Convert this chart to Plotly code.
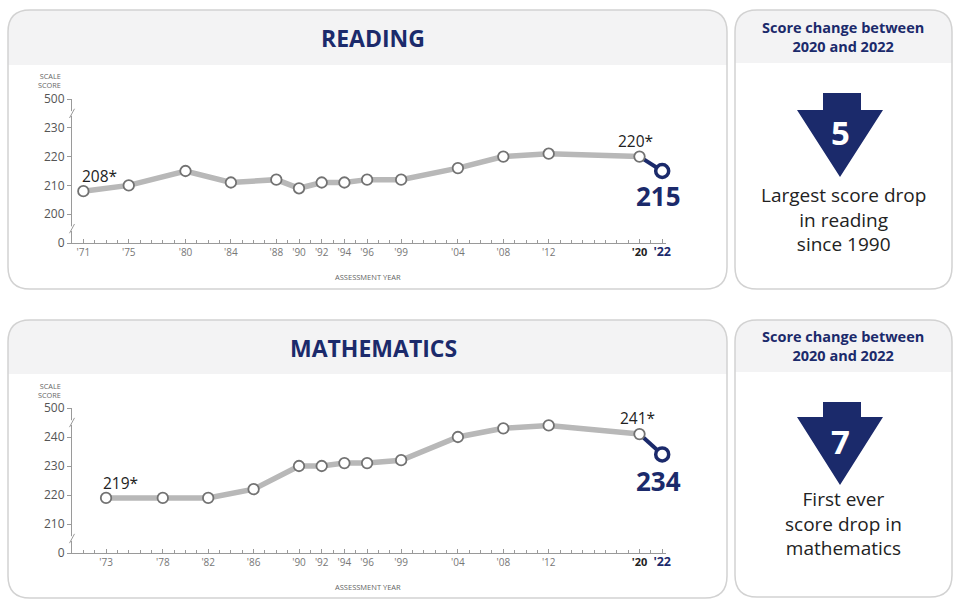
import plotly.graph_objects as go

W, H = 960, 604
NAVY = "#1b2a6b"
LINE_GRAY = "#b8b8b8"
AXIS_GRAY = "#9a9a9a"
FONT = "Open Sans"

# === DATOS ===
read_years = [1971, 1975, 1980, 1984, 1988, 1990, 1992, 1994, 1996, 1999, 2004, 2008, 2012, 2020, 2022]
read_scores = [208, 210, 215, 211, 212, 209, 211, 211, 212, 212, 216, 220, 221, 220, 215]
read_ticktext = ["'71", "'75", "'80", "'84", "'88", "'90", "'92", "'94", "'96", "'99", "'04", "'08", "'12", "'20", "'22"]

math_years = [1973, 1978, 1982, 1986, 1990, 1992, 1994, 1996, 1999, 2004, 2008, 2012, 2020, 2022]
math_scores = [219, 219, 219, 222, 230, 230, 231, 231, 232, 240, 243, 244, 241, 234]
math_ticktext = ["'73", "'78", "'82", "'86", "'90", "'92", "'94", "'96", "'99", "'04", "'08", "'12", "'20", "'22"]

# eje Y cortado: el primer y el ultimo tick representan 0 y 500
read_yvals = [190, 200, 210, 220, 230, 240]
read_ylabels = ["0", "200", "210", "220", "230", "500"]
math_yvals = [200, 210, 220, 230, 240, 250]
math_ylabels = ["0", "210", "220", "230", "240", "500"]

read_change = 5
math_change = 7
read_note = "Largest score drop<br>in reading<br>since 1990"
math_note = "First ever<br>score drop in<br>mathematics"


def px(x):
    return x / W


def py(y):
    return 1 - y / H


def rounded_rect(x0, y0, x1, y1, r, bottom_round=True):
    rx, ry = r / W, r / H
    X0, X1, Y0, Y1 = px(x0), px(x1), py(y0), py(y1)
    p = f"M {X0},{Y0 - ry} Q {X0},{Y0} {X0 + rx},{Y0} L {X1 - rx},{Y0} Q {X1},{Y0} {X1},{Y0 - ry} "
    if bottom_round:
        p += f"L {X1},{Y1 + ry} Q {X1},{Y1} {X1 - rx},{Y1} L {X0 + rx},{Y1} Q {X0},{Y1} {X0},{Y1 + ry} Z"
    else:
        p += f"L {X1},{Y1} L {X0},{Y1} Z"
    return p


def fmt_ticks(labels):
    out = []
    for t in labels:
        if t == "'20":
            out.append("<span style='font-size:11px;color:#222'><b>" + t + "</b></span>")
        elif t == "'22":
            out.append("<span style='font-size:12.5px;color:" + NAVY + "'><b>" + t + "</b></span>")
        else:
            out.append(t)
    return out


fig = go.Figure()


def add_series(years, scores, xa, ya):
    fig.add_trace(go.Scatter(
        x=years[-2:], y=scores[-2:], xaxis=xa, yaxis=ya,
        mode='lines', line=dict(color=NAVY, width=4), showlegend=False, hoverinfo='skip'
    ))
    fig.add_trace(go.Scatter(
        x=years[:-1], y=scores[:-1], xaxis=xa, yaxis=ya,
        mode='lines+markers', line=dict(color=LINE_GRAY, width=5.5),
        marker=dict(size=10.5, color='white', line=dict(color='#727272', width=1.8)),
        showlegend=False, cliponaxis=False
    ))
    fig.add_trace(go.Scatter(
        x=years[-1:], y=scores[-1:], xaxis=xa, yaxis=ya,
        mode='markers', marker=dict(size=13, color='white', line=dict(color=NAVY, width=3.5)),
        showlegend=False, cliponaxis=False
    ))


add_series(read_years, read_scores, 'x', 'y')
add_series(math_years, math_scores, 'x2', 'y2')

xdom = [px(72), px(665.6)]
xaxis_common = dict(
    range=[1970, 2022.3], domain=xdom, showline=True, linecolor=AXIS_GRAY, linewidth=1,
    showgrid=False, zeroline=False, ticks='inside', ticklen=4, tickcolor=AXIS_GRAY,
    tickfont=dict(size=10, color='#777777', family=FONT),
    minor=dict(dtick=1, tick0=1970, ticks='inside', ticklen=3, tickcolor=AXIS_GRAY),
    fixedrange=True, automargin=False
)
yaxis_common = dict(
    showline=True, linecolor=AXIS_GRAY, linewidth=1, showgrid=False, zeroline=False,
    ticks='outside', ticklen=4, tickcolor=AXIS_GRAY,
    tickfont=dict(size=12, color='#555555', family=FONT), fixedrange=True, automargin=False
)

fig.update_layout(
    width=W, height=H, margin=dict(l=0, r=0, t=0, b=0, pad=0, autoexpand=False),
    paper_bgcolor='white', plot_bgcolor='rgba(0,0,0,0)',
    font=dict(family=FONT), showlegend=False, hovermode=False,
    xaxis=dict(xaxis_common, anchor='y', tickvals=read_years, ticktext=fmt_ticks(read_ticktext)),
    yaxis=dict(yaxis_common, anchor='x', domain=[py(243), py(99)], range=[190, 240],
               tickvals=read_yvals, ticktext=read_ylabels),
    xaxis2=dict(xaxis_common, anchor='y2', tickvals=math_years, ticktext=fmt_ticks(math_ticktext)),
    yaxis2=dict(yaxis_common, anchor='x2', domain=[py(553), py(408)], range=[200, 250],
                tickvals=math_yvals, ticktext=math_ylabels),
)

# === PANELES ===
shapes = []
panels = [
    (8, 10, 727, 289, 65),
    (735, 10, 952, 289, 63),
    (8, 320, 727, 598, 374),
    (735, 320, 952, 597, 372),
]
for x0, y0, x1, y1, hb in panels:
    shapes.append(dict(type='path', xref='paper', yref='paper', layer='below',
                       path=rounded_rect(x0, y0, x1, hb, 22, bottom_round=False),
                       fillcolor='#f3f3f4', line=dict(width=0)))
    shapes.append(dict(type='path', xref='paper', yref='paper', layer='below',
                       path=rounded_rect(x0, y0, x1, y1, 22),
                       fillcolor='rgba(0,0,0,0)', line=dict(color='#d2d2d2', width=1.5)))

# flechas
for top, stem_bot, tip in [(93, 110, 177), (402, 417, 485)]:
    path = (f"M {px(823)},{py(top)} L {px(861)},{py(top)} L {px(861)},{py(stem_bot)} "
            f"L {px(883)},{py(stem_bot)} L {px(840)},{py(tip)} L {px(797)},{py(stem_bot)} "
            f"L {px(823)},{py(stem_bot)} Z")
    shapes.append(dict(type='path', xref='paper', yref='paper', path=path,
                       fillcolor=NAVY, line=dict(width=0)))

# cortes del eje Y
for ya, vals in [('y', [195, 235]), ('y2', [205, 245])]:
    for v in vals:
        shapes.append(dict(type='rect', xref='paper', yref=ya, x0=px(69), x1=px(75),
                           y0=v - 0.8, y1=v + 0.8, fillcolor='white', line=dict(width=0), layer='above'))
        shapes.append(dict(type='line', xref='paper', yref=ya, x0=px(69.5), x1=px(74.5),
                           y0=v - 1.6, y1=v + 1.6, line=dict(color=AXIS_GRAY, width=1), layer='above'))

fig.update_layout(shapes=shapes)

# === TEXTOS ===
ann = []


def paper_text(x, y, text, size, color, xanchor='center', align='center'):
    ann.append(dict(x=px(x), y=py(y), xref='paper', yref='paper', text=text, showarrow=False,
                    xanchor=xanchor, yanchor='middle', align=align,
                    font=dict(size=size, color=color, family=FONT)))


paper_text(373, 38, "<b>READING</b>", 23, NAVY)
paper_text(373, 348, "<b>MATHEMATICS</b>", 23, NAVY)
paper_text(63, 81, "SCALE<br>SCORE", 7.3, '#666666', xanchor='right', align='right')
paper_text(63, 390, "SCALE<br>SCORE", 7.3, '#666666', xanchor='right', align='right')
paper_text(368, 277, "ASSESSMENT YEAR", 7.5, '#666666')
paper_text(368, 587, "ASSESSMENT YEAR", 7.5, '#666666')

paper_text(843, 37, "<b>Score change between<br>2020 and 2022</b>", 14.5, NAVY)
paper_text(843, 346, "<b>Score change between<br>2020 and 2022</b>", 14.5, NAVY)
paper_text(840, 133, f"<b>{read_change}</b>", 33, 'white')
paper_text(840, 441, f"<b>{math_change}</b>", 33, 'white')
paper_text(843, 219, read_note, 19, '#222222')
paper_text(843, 523, math_note, 19, '#222222')


def data_text(xa, ya, x, y, text, size, color, xshift, yshift, xanchor='center'):
    ann.append(dict(x=x, y=y, xref=xa, yref=ya, text=text, showarrow=False,
                    xanchor=xanchor, yanchor='middle', xshift=xshift, yshift=yshift,
                    font=dict(size=size, color=color, family=FONT)))


data_text('x', 'y', read_years[0], read_scores[0], f"{read_scores[0]}*", 15.5, '#222222', -3, 15, 'left')
data_text('x', 'y', read_years[-2], read_scores[-2], f"{read_scores[-2]}*", 15.5, '#222222', -4, 16)
data_text('x', 'y', read_years[-1], read_scores[-1], f"<b>{read_scores[-1]}</b>", 26, NAVY, -4, -25)
data_text('x2', 'y2', math_years[0], math_scores[0], f"{math_scores[0]}*", 15.5, '#222222', -5, 15, 'left')
data_text('x2', 'y2', math_years[-2], math_scores[-2], f"{math_scores[-2]}*", 15.5, '#222222', -2, 16)
data_text('x2', 'y2', math_years[-1], math_scores[-1], f"<b>{math_scores[-1]}</b>", 26, NAVY, -4, -27)

fig.update_layout(annotations=ann)

# sin margen del body para que la figura empiece en (0, 0)
fig.write_html("out.html", post_script="document.body.style.margin='0';",
               config={'displayModeBar': False})
